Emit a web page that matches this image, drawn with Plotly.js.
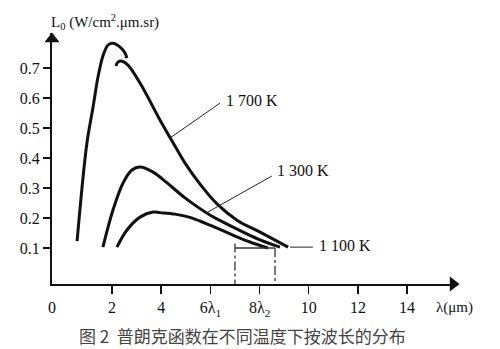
<!DOCTYPE html>
<html>
<head>
<meta charset="utf-8">
<script src="https://cdn.plot.ly/plotly-3.0.1.min.js"></script>
<style>html,body{margin:0;padding:0;background:#fff;}#chart{width:500px;height:349px;}</style>
</head>
<body>
<div id="chart"></div>
<script>
// wavelength (µm) and radiance L0 (W/cm².µm.sr)
const wl1700Rise = [0.58, 0.98, 1.23, 1.43, 1.64, 1.84, 2.04, 2.33, 2.53, 2.60];
const L1700Rise  = [0.123, 0.45, 0.57, 0.67, 0.743, 0.777, 0.783, 0.77, 0.75, 0.733];
const wl1700Fall = [2.16, 2.24, 2.41, 2.65, 3.14, 3.95, 4.56, 4.97, 5.58, 6.27, 7.08, 8.02, 9.16];
const L1700Fall  = [0.707, 0.72, 0.723, 0.71, 0.65, 0.527, 0.44, 0.383, 0.313, 0.247, 0.193, 0.153, 0.103];
const wl1300 = [1.63, 2.04, 2.45, 2.81, 3.14, 3.67, 4.24, 4.97, 5.98, 6.60, 8.02, 8.83];
const L1300  = [0.103, 0.227, 0.317, 0.36, 0.37, 0.353, 0.317, 0.267, 0.21, 0.183, 0.127, 0.103];
const wl1100 = [2.20, 2.61, 3.14, 3.67, 3.95, 4.56, 5.17, 5.78, 6.39, 7.00, 7.61, 8.34];
const L1100  = [0.103, 0.16, 0.203, 0.22, 0.218, 0.213, 0.202, 0.183, 0.162, 0.14, 0.12, 0.10];

const lambda1 = 7.0;
const lambda2 = 8.63;
const lambdaLevel = 0.1;

const xTickVals = [2, 4, 6, 8, 10, 12, 14];
const xTickText = ['2', '4', '6λ<sub>1</sub>', '8λ<sub>2</sub>', '10', '12', '14'];
const yTickVals = [0.1, 0.2, 0.3, 0.4, 0.5, 0.6, 0.7];
const yTickText = ['0.1', '0.2', '0.3', '0.4', '0.5', '0.6', '0.7'];

const tempLabels = ['1 700 K', '1 300 K', '1 100 K'];
// leader line ends [curve point, label point] and label anchors
const leaderX = [[4.36, 6.39], [5.90, 8.50], [9.24, 10.17]];
const leaderY = [[0.467, 0.583], [0.22, 0.34], [0.103, 0.103]];
const labelX = [6.55, 8.62, 10.32];
const labelY = [0.593, 0.357, 0.107];

const xMin = -0.44, xMax = 16.07, yMin = -0.02, yMax = 0.817;
const serif = '"Liberation Serif", "Times New Roman", serif';

const curve = {color: '#111', width: 3, shape: 'spline', smoothing: 1};
const traces = [
  {x: wl1700Rise, y: L1700Rise, mode: 'lines', line: curve},
  {x: wl1700Fall, y: L1700Fall, mode: 'lines', line: curve},
  {x: wl1300, y: L1300, mode: 'lines', line: curve},
  {x: wl1100, y: L1100, mode: 'lines', line: curve},
  // lambda markers
  {x: [lambda1, lambda1], y: [lambdaLevel + 0.015, yMin], mode: 'lines', line: {color: '#333', width: 1.3, dash: 'dashdot'}},
  {x: [lambda2, lambda2], y: [lambdaLevel, yMin], mode: 'lines', line: {color: '#333', width: 1.3, dash: 'dashdot'}},
  {x: [lambda1, lambda2], y: [lambdaLevel, lambdaLevel], mode: 'lines', line: {color: '#333', width: 1.3}},
  // axis arrowheads
  {x: [xMax - 0.2], y: [yMin], mode: 'markers', cliponaxis: false,
   marker: {symbol: 'triangle-right', size: 13, color: '#111'}},
  {x: [xMin], y: [yMax - 0.02], mode: 'markers', cliponaxis: false,
   marker: {symbol: 'triangle-up', size: 13, color: '#111'}}
];
for (let i = 0; i < leaderX.length; i++) {
  traces.push({x: leaderX[i], y: leaderY[i], mode: 'lines', line: {color: '#222', width: 1}});
}

const annotations = tempLabels.map((t, i) => ({
  x: labelX[i], y: labelY[i], xref: 'x', yref: 'y', text: t, showarrow: false,
  xanchor: 'left', yanchor: 'middle', font: {family: serif, size: 16, color: '#111'}
}));
annotations.push(
  {xref: 'paper', yref: 'paper', x: 0, y: 1, xanchor: 'left', yanchor: 'middle', yshift: 11, xshift: -3,
   text: 'L<sub>0</sub> (W/cm<sup>2</sup>.μm.sr)', showarrow: false, font: {family: serif, size: 15, color: '#111'}},
  {xref: 'paper', yref: 'paper', x: 0, y: 0, xanchor: 'center', yanchor: 'middle', yshift: -23,
   text: '0', showarrow: false, font: {family: serif, size: 16, color: '#111'}},
  {xref: 'paper', yref: 'paper', x: 1, y: 0, xanchor: 'center', yanchor: 'middle', yshift: -23, xshift: -4,
   text: 'λ(μm)', showarrow: false, font: {family: serif, size: 15, color: '#111'}},
  {xref: 'paper', yref: 'paper', x: 0.062, y: -0.205, xanchor: 'left', yanchor: 'middle',
   text: '图 2  普朗克函数在不同温度下按波长的分布', showarrow: false,
   font: {family: 'Noto Sans CJK SC, sans-serif', size: 17, color: '#444'}}
);

const layout = {
  width: 500, height: 349,
  margin: {l: 52, r: 42, t: 33, b: 65},
  paper_bgcolor: '#fff', plot_bgcolor: '#fff',
  showlegend: false,
  xaxis: {range: [xMin, xMax], showgrid: false, zeroline: false, showline: true, linewidth: 2, linecolor: '#111',
          ticks: 'outside', ticklen: 8, tickwidth: 1.5, tickcolor: '#111',
          tickvals: xTickVals, ticktext: xTickText, tickfont: {family: serif, size: 16, color: '#111'}},
  yaxis: {range: [yMin, yMax], showgrid: false, zeroline: false, showline: true, linewidth: 2, linecolor: '#111',
          ticks: 'outside', ticklen: 7, tickwidth: 1.5, tickcolor: '#111',
          tickvals: yTickVals, ticktext: yTickText, tickfont: {family: serif, size: 16, color: '#111'}},
  annotations: annotations
};

Plotly.newPlot('chart', traces, layout, {staticPlot: true, displayModeBar: false});
</script>
</body>
</html>
